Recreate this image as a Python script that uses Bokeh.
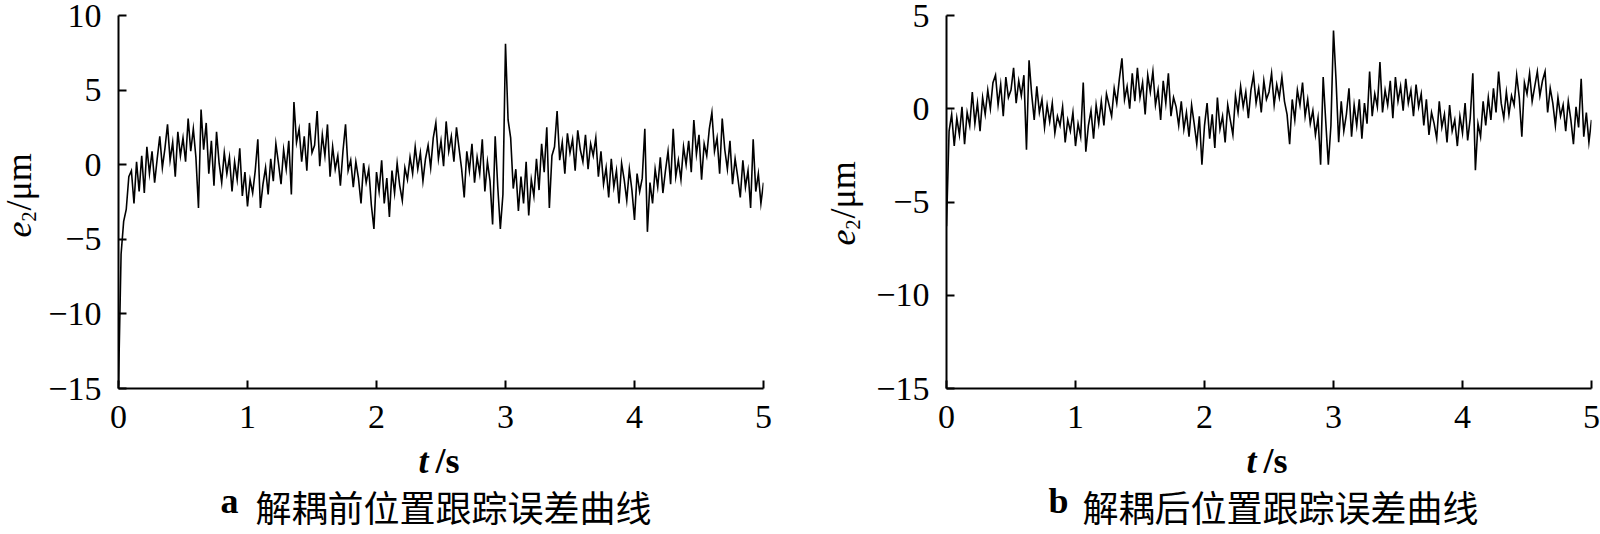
import math
from bokeh.plotting import figure
from bokeh.layouts import row, column
from bokeh.models import Range1d, FixedTicker
from bokeh.core.properties import value
from bokeh.embed import file_html
from bokeh.resources import INLINE

# ---------------- data ----------------
dt = 0.02
# e2 before decoupling (panel a), one value every 0.02 s from 0 to 5 s
e2_before = [
    -14.8, -6.0, -3.8, -3.0, -0.8, -0.4, -2.6, 0.2, -1.8, 0.6,
    -1.9, 1.2, -0.6, 0.9, -1.2, 0.4, 1.9, -0.2, 1.1, 2.7,
    0.3, 1.5, -0.8, 2.2, 0.6, 1.8, 0.2, 3.1, 0.9, 2.4,
    0.5, -2.9, 3.7, 1.0, 2.8, -0.6, 1.6, -1.4, 2.2, 0.1,
    -1.2, 0.8, -0.6, 0.5, -1.8, 0.2, -1.0, 1.1, -2.1, -0.5,
    -2.8, -1.0, -1.9, -0.4, 1.7, -2.9, -1.3, -0.2, -2.0, 0.4,
    -1.1, 1.4, 0.1, -1.3, 1.0, -0.3, 1.6, -2.0, 4.2, 1.5,
    2.4, 0.2, 1.9, -0.4, 2.8, 0.8, 1.3, 3.6, -0.1, 2.0,
    0.6, 2.7, -0.8, 1.2, -0.3, 0.6, -1.4, 0.9, 2.7, -0.4,
    0.3, -1.5, 0.2, -0.9, -2.6, 0.1, -1.2, -0.3, -2.7, -4.3,
    -0.5, -1.8, 0.3, -2.6, -0.9, -3.5, -0.4, -1.9, 0.1, -1.4,
    -2.4, -0.2, -1.0, 0.5, -0.6, 1.2, -0.3, 0.8, -1.1, 0.4,
    1.3, -0.2, 1.8, 2.8, 0.4, 1.6, -0.1, 2.9, 0.9, 1.9,
    0.2, 2.5, 1.1, -0.3, -2.2, 0.9, -0.4, 1.4, -1.2, 0.5,
    -0.6, 1.7, -1.8, 0.2, -1.1, -4.0, 1.9, -1.5, -4.3, -2.0,
    8.1, 3.0, 1.8, -1.6, -0.3, -3.1, -0.8, -2.6, 0.2, -3.4,
    -1.0, -2.1, 0.4, -1.7, 1.4, -0.5, 2.5, -2.9, 0.6, 1.2,
    3.6, 0.3, 1.5, -0.6, 2.1, 0.8, 1.7, -0.4, 2.3, 1.0,
    0.2, 2.0, -0.3, 1.4, 0.6, 1.8, -0.8, 0.9, -1.3, -0.2,
    -2.2, 0.4, -1.5, -0.4, -2.6, 0.1, -1.0, -2.4, -0.3, -1.7,
    -3.7, -0.6, -1.8, -0.9, 2.4, -4.5, -1.2, -2.6, -0.3, -1.5,
    0.5, -1.9, -0.4, 0.9, -1.3, 2.4, -0.8, 0.3, -1.0, 1.2,
    0.0, 1.6, -0.5, 3.0, 0.7, 2.0, -1.0, 1.4, 0.6, 2.4,
    3.5, 0.9, 1.8, -0.6, 3.1, 1.0, -0.3, 1.6, -1.3, 0.4,
    -0.8, -2.2, 0.3, -1.5, -0.4, -2.9, 1.7, -1.8, -0.6, -2.6, -1.2,
]
# e2 after decoupling (panel b)
e2_after = [
    -6.3, -1.2, -0.3, -2.0, -0.5, -1.4, 0.1, -1.9, -0.2, -0.9,
    0.9, -0.8, 0.3, -1.2, 0.6, -0.3, 1.0, 0.0, 1.4, 1.8,
    0.2, 1.3, -0.4, 1.7, 0.6, 1.0, 2.2, 0.3, 1.5, 0.7,
    1.8, -2.2, 2.6, 0.8, -0.6, 1.2, -0.2, 0.5, -1.0, 0.2,
    -0.7, 0.3, -1.3, -0.4, -0.9, 0.1, -1.8, -0.6, -1.2, -0.2,
    -2.0, -0.8, -1.5, 1.4, -2.3, -0.9, -0.1, -1.6, 0.2, -0.8,
    0.4, -0.9, 0.8, 0.2, -0.4, 1.1, 0.3, 1.6, 2.7, 0.5,
    1.2, 0.0, 1.9, 0.4, 2.2, 0.6, 1.4, -0.3, 1.8, 0.9,
    2.0, 0.2, 1.0, -0.6, 1.5, 0.3, 1.9, -0.4, 0.6, 0.1,
    -0.9, 0.4, -1.1, -0.2, -1.5, 0.2, -0.8, -1.9, -0.4, -3.0,
    -0.9, 0.3, -1.6, -0.3, -2.1, 0.6, -1.1, -0.4, -1.8, 0.2,
    -0.6, -1.4, 0.7, -0.2, 1.2, 0.1, 0.9, -0.5, 1.0, 1.8,
    0.3, 1.1, -0.2, 1.5, 0.5, 0.9, 1.9, 0.2, 1.3, 0.6,
    1.7, 0.4, -0.3, -1.9, 0.5, -0.6, 1.0, 0.2, 1.4, -0.4,
    0.5, -0.8, -0.1, -1.4, -0.5, -3.0, 1.7, -0.7, -3.0, -0.9,
    4.2, 1.5, -1.8, 0.4, -1.2, -0.3, 1.1, -1.5, 0.2, -0.9,
    0.5, -1.6, 0.3, -0.8, 2.0, -0.4, 0.8, 0.1, 2.5, -0.2,
    1.0, 0.2, 1.5, -0.5, 1.7, 0.4, 1.2, -0.1, 1.6, 0.3,
    1.0, -0.4, 1.3, 0.1, 0.8, -0.9, 0.5, -1.4, -0.2, -0.8,
    -1.6, 0.4, -1.0, -0.3, -1.8, 0.2, -1.2, -0.6, -2.0, -0.4,
    -1.3, 0.3, -1.7, -0.5, 1.9, -3.3, -0.8, -1.5, 0.4, -0.9,
    0.6, -0.6, 1.1, -0.2, 2.0, 0.3, -0.5, 0.9, -0.3, 0.7,
    0.2, 1.8, 0.6, -1.5, 1.4, 0.8, 1.9, 0.4, 1.2, 2.0,
    0.7, 1.5, 2.0, -0.2, 1.1, 0.3, -0.9, 0.6, -0.4, 0.2,
    -1.2, 0.4, -0.6, -1.9, 0.1, -1.0, 1.6, -1.5, -0.2, -1.8, -0.6,
]
t = [round(i * dt, 4) for i in range(len(e2_before))]

x_ticks = [0, 1, 2, 3, 4, 5]
y_ticks_a = [-15, -10, -5, 0, 5, 10]
y_ticks_b = [-15, -10, -5, 0, 5]
x_label = ("t", "/s")
y_label = ("e", "2", "/\u03bcm")
caption_a = ("a", "解耦前位置跟踪误差曲线")
caption_b = ("b", "解耦后位置跟踪误差曲线")

SERIF = "Liberation Serif"
CJK = "Noto Sans CJK SC"
TOTAL_H = 534
TOP = 15
FRAME_W = 645
FRAME_H = 373
AXIS_B = 60


def blank(width, height, x0, x1):
    """A figure without axes whose data units equal page pixels (x0..x1 = its frame)."""
    p = figure(width=width, height=height, title=None,
               x_range=Range1d(x0, x1), y_range=Range1d(0, height),
               x_axis_type=None, y_axis_type=None, min_border=0,
               output_backend="svg", toolbar_location=None)
    p.outline_line_color = None
    p.grid.visible = False
    p.background_fill_color = "white"
    p.border_fill_color = "white"
    return p


def txt(p, x, page_y, s, size, font=SERIF, style="normal", angle=0.0, align="left"):
    p.text(x=[x], y=[TOTAL_H - page_y], text=[s], angle=angle,
           text_align=align, text_baseline="middle",
           text_font=value(font), text_font_style=style,
           text_font_size=size, text_color="black")


def main_fig(y, yticks, left_border, right_border):
    p = figure(
        frame_width=FRAME_W, frame_height=FRAME_H, title=None,
        min_border_left=left_border, min_border_right=right_border,
        min_border_top=TOP, min_border_bottom=AXIS_B,
        x_range=Range1d(0, 5), y_range=Range1d(yticks[0], yticks[-1]),
        output_backend="svg", toolbar_location=None,
    )
    p.outline_line_color = None
    p.grid.visible = False
    p.background_fill_color = "white"
    p.border_fill_color = "white"

    p.line(t, y, line_color="black", line_width=1.6, line_join="miter")

    for ax, ticks in ((p.xaxis[0], x_ticks), (p.yaxis[0], yticks)):
        ax.ticker = FixedTicker(ticks=ticks)
        ax.axis_line_color = "black"
        ax.axis_line_width = 2
        ax.major_tick_line_color = "black"
        ax.major_tick_line_width = 2
        ax.major_tick_in = 8
        ax.major_tick_out = 0
        ax.minor_tick_line_color = None
        ax.major_label_text_font = SERIF
        ax.major_label_text_color = "black"
        ax.major_label_text_font_size = "34px"
    p.yaxis.major_label_standoff = 17
    p.xaxis.major_label_standoff = 17
    p.yaxis.major_label_overrides = {v: ("\u2212" + str(-v) if v < 0 else str(v)) for v in yticks}
    return p


def panel(y, yticks, caption, page_x0, lab_w, left_border, right_border,
          ylab_mid_x, ylab_start_y, t_right, s_left, letter_x, cjk_x):
    # rotated y label in its own strip
    lab = blank(lab_w, TOTAL_H, page_x0, page_x0 + lab_w)
    txt(lab, ylab_mid_x, ylab_start_y, y_label[0], "36px", style="italic", angle=math.pi / 2)
    txt(lab, ylab_mid_x + 10, ylab_start_y - 16, y_label[1], "20px", angle=math.pi / 2)
    txt(lab, ylab_mid_x, ylab_start_y - 27, y_label[2], "36px", angle=math.pi / 2)

    p = main_fig(y, yticks, left_border, right_border)
    w = left_border + FRAME_W + right_border
    frame_x0 = page_x0 + lab_w + left_border

    bottom = blank(w, TOTAL_H - TOP - FRAME_H - AXIS_B, frame_x0, frame_x0 + FRAME_W)
    txt(bottom, t_right, 460, x_label[0], "36px", style="bold italic", align="right")
    txt(bottom, s_left, 460, x_label[1], "36px", style="bold")
    txt(bottom, letter_x, 500, caption[0], "36px", style="bold")
    txt(bottom, cjk_x, 505, caption[1], "36px", font=CJK)

    return row(lab, column(p, bottom))


left = panel(e2_before, y_ticks_a, caption_a, 0, 42, 76, 45,
             18, 237, 428, 435, 220, 255)
right = panel(e2_after, y_ticks_b, caption_b, 808, 60, 78, 9,
              842, 245, 1256, 1263, 1048, 1082)

layout = row(left, right)
open("out.html", "w").write(file_html(layout, INLINE))
